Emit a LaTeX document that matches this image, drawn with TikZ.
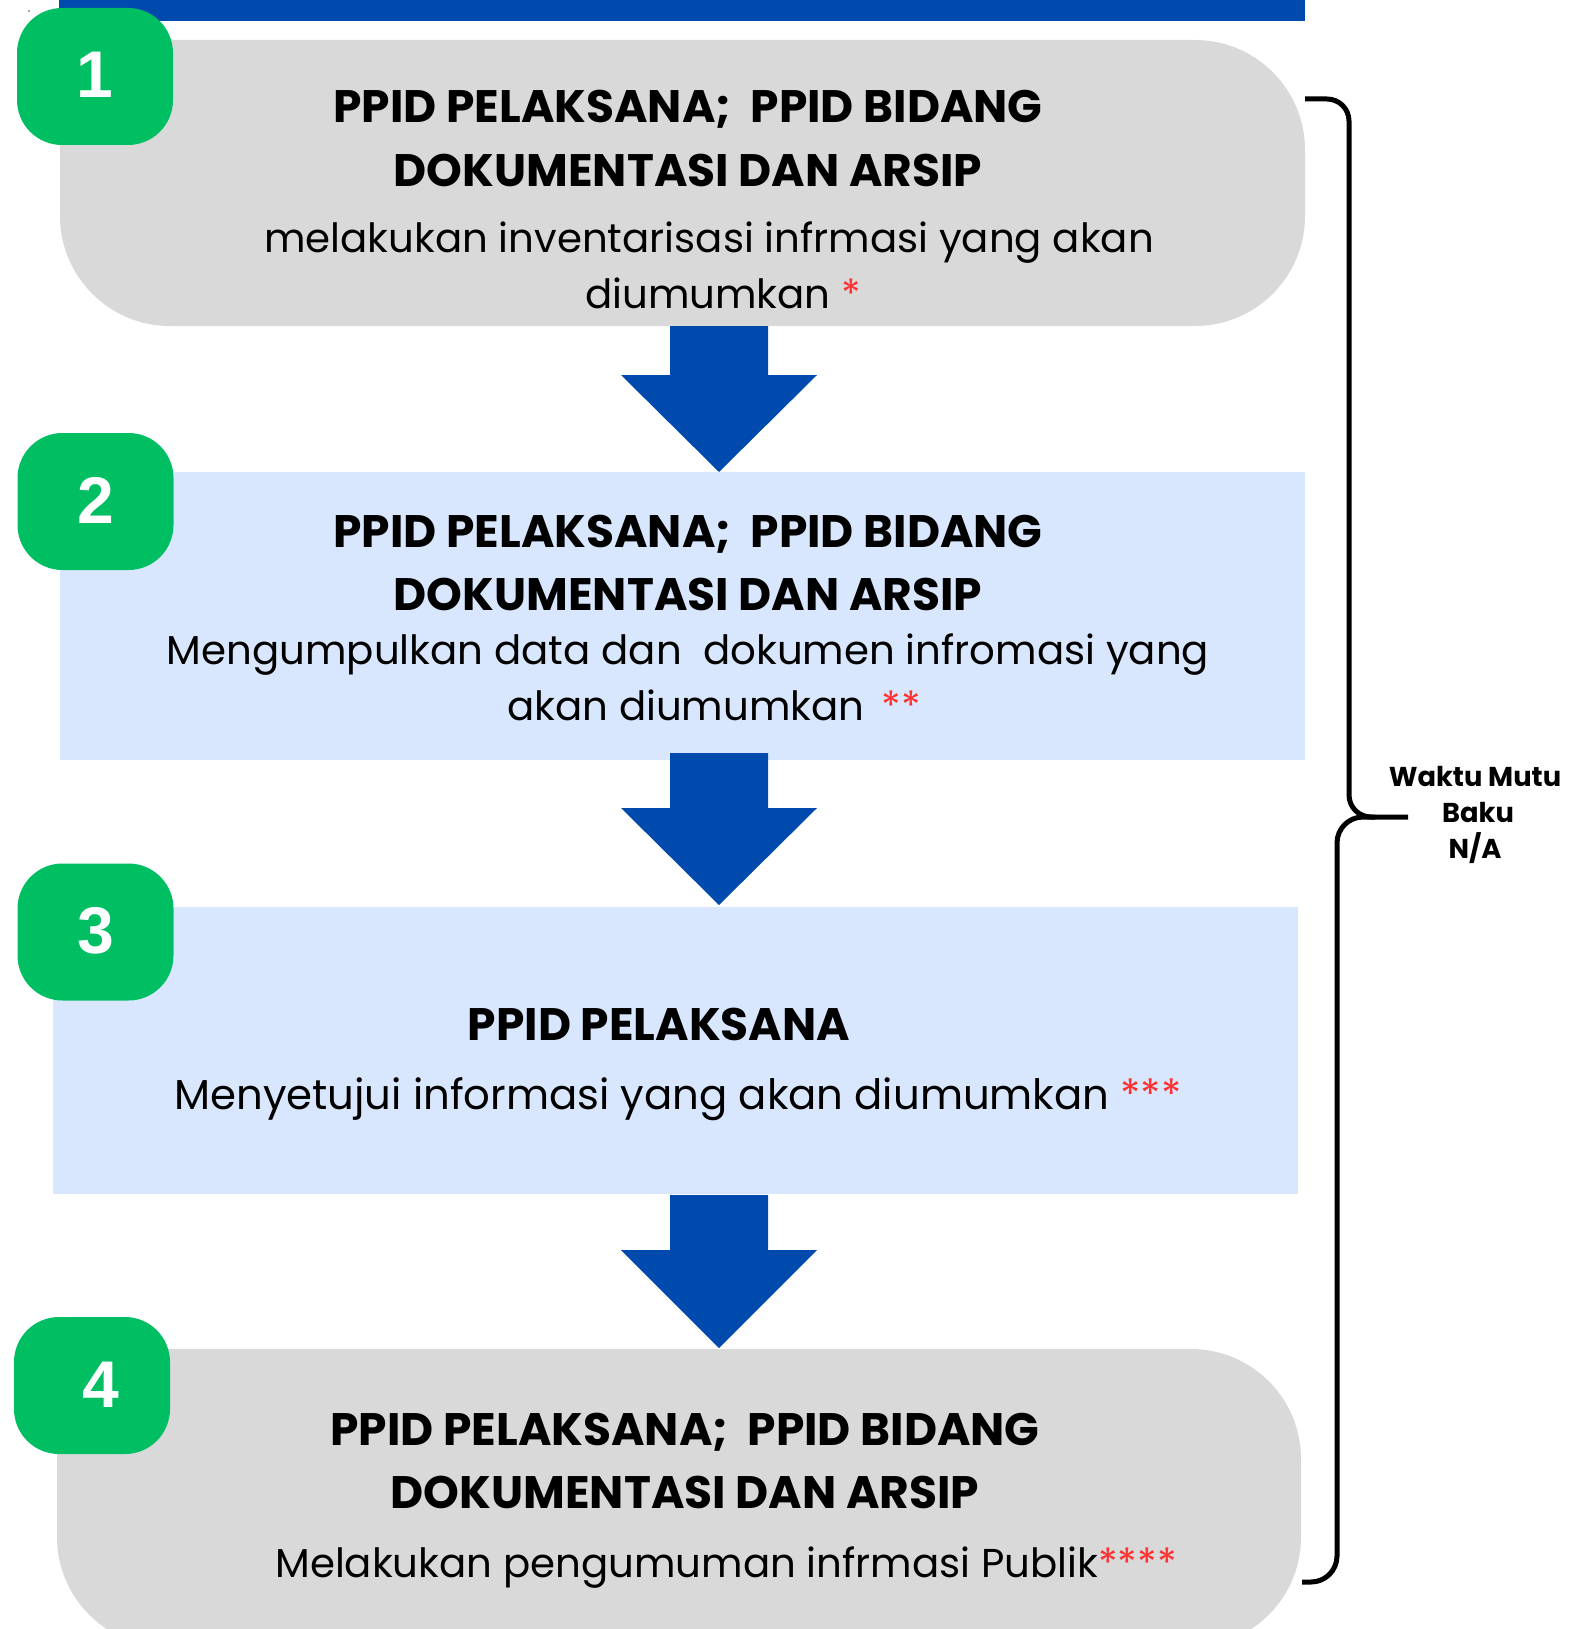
\documentclass[tikz,border=0pt]{standalone}
\usepackage{fontspec}
\setmainfont{Poppins}
\newfontfamily\numfont{Liberation Sans}
\definecolor{pgreen}{HTML}{00BF63}
\definecolor{pblue}{HTML}{004AAD}
\definecolor{pgray}{HTML}{D9D9D9}
\definecolor{plight}{HTML}{D8E7FD}
\definecolor{pred}{HTML}{FF3131}
\newcommand{\titlefnt}{\bfseries\fontsize{45.5}{52}\selectfont}
\newcommand{\bodyfnt}{\fontsize{40.3}{46}\selectfont}
\newcommand{\bodybigfnt}{\fontsize{41.8}{48}\selectfont}
\newcommand{\st}[1]{{\color{pred}#1}}
\tikzset{
  graybox/.style={fill=pgray, draw=none, rounded corners=110pt, inner sep=0},
  bluebox/.style={fill=plight, draw=none, inner sep=0},
  badge/.style={fill=pgreen, draw=none, rounded corners=45pt, minimum width=156pt, minimum height=137pt, inner sep=0},
  badgenum/.style={anchor=base, inner sep=0, text=white, font=\numfont\bfseries\fontsize{66}{70}\selectfont},
  titletext/.style={anchor=base, inner sep=0, font=\titlefnt},
  bodytext/.style={anchor=base, inner sep=0, font=\bodyfnt},
  sidetext/.style={anchor=base, inner sep=0, font=\bfseries\fontsize{27.3}{34}\selectfont},
  bracket/.style={draw=black, line width=5pt},
  blockarrow/.style={fill=pblue, draw=none}
}
\begin{document}
\begin{tikzpicture}[x=1pt,y=-1pt]
\useasboundingbox (0,0) rectangle (1569,1629);
\clip (0,0) rectangle (1569,1629);
\fill[white] (0,0) rectangle (1569,1629);
% tiny dot
\fill[black!70] (29,11) circle (0.9pt);
% top bar
\fill[pblue] (59,0) rectangle (1305,21);
% boxes
\node[graybox, minimum width=1245pt, minimum height=286pt] (b1) at (682.5,183) {};
\node[bluebox, minimum width=1245pt, minimum height=288pt] (b2) at (682.5,616) {};
\node[bluebox, minimum width=1245pt, minimum height=287pt] (b3) at (675.5,1050.5) {};
\node[graybox, minimum width=1244pt, minimum height=298pt] (b4) at (679,1498) {};
% arrows
\fill[blockarrow] (670,326) -- (768,326) -- (768,375) -- (817,375) -- (719,472) -- (621,375) -- (670,375) -- cycle;
\fill[blockarrow] (670,753) -- (768,753) -- (768,808) -- (817,808) -- (719,905) -- (621,808) -- (670,808) -- cycle;
\fill[blockarrow] (670,1195) -- (768,1195) -- (768,1250) -- (817,1250) -- (719,1348) -- (621,1250) -- (670,1250) -- cycle;
% badges
\node[badge] (g1) at (95,76.5) {};
\node[badge] (g2) at (95.5,501.5) {};
\node[badge] (g3) at (95.5,932) {};
\node[badge] (g4) at (92,1385.5) {};
\node[badgenum] (n1) at (95,98) {1};
\node[badgenum] (n2) at (96,523) {2};
\node[badgenum] (n3) at (96,953) {3};
\node[badgenum] (n4) at (101,1407) {4};
% box 1 text
\node[titletext] (t1a) at (688,123) {PPID PELAKSANA;\ \ PPID BIDANG};
\node[titletext] (t1b) at (688,187) {DOKUMENTASI DAN ARSIP};
\node[bodytext] (d1a) at (709,252) {melakukan inventarisasi infrmasi yang akan};
\node[bodytext] (d1b) at (723,308) {diumumkan \st{*}};
% box 2 text
\node[titletext] (t2a) at (688,547) {PPID PELAKSANA;\ \ PPID BIDANG};
\node[titletext] (t2b) at (688,610) {DOKUMENTASI DAN ARSIP};
\node[bodytext] (d2a) at (688,664) {Mengumpulkan data dan\ \ dokumen infromasi yang};
\node[bodytext] (d2b) at (714,720) {akan diumumkan\hspace{17pt}\st{**}};
% box 3 text
\node[titletext] (t3a) at (659,1040) {PPID PELAKSANA};
\node[bodytext, font=\bodybigfnt] (d3a) at (678,1109) {Menyetujui informasi yang akan diumumkan \st{***}};
% box 4 text
\node[titletext] (t4a) at (685,1445) {PPID PELAKSANA;\ \ PPID BIDANG};
\node[titletext] (t4b) at (685,1508) {DOKUMENTASI DAN ARSIP};
\node[bodytext] (d4a) at (726,1577) {Melakukan pengumuman infrmasi Publik\st{****}};
% bracket
\coordinate (bt) at (1305,99);
\coordinate (bm) at (1408,817);
\coordinate (bb) at (1302,1582);
\draw[bracket, rounded corners=22pt] (bt) -- (1349,99) -- (1349,817) -- (bm);
\draw[bracket, rounded corners=26pt] (1375,817) -- (1337,817) -- (1337,1582) -- (bb);
% side label
\node[sidetext] (w1) at (1475,786) {Waktu Mutu};
\node[sidetext] (w2) at (1478,822) {Baku};
\node[sidetext] (w3) at (1475,858) {N/A};
\end{tikzpicture}
\end{document}
